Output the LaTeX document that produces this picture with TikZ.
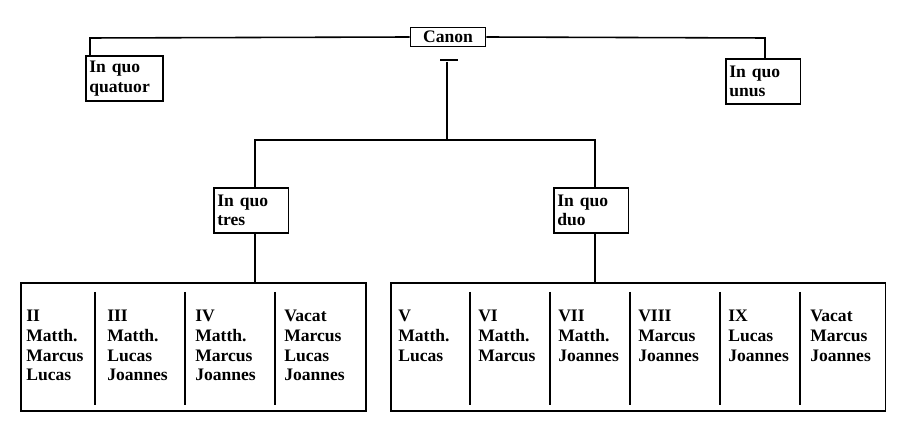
\documentclass[tikz,border=0pt]{standalone}
\usepackage{fontspec}
\setmainfont{Liberation Serif}
\begin{document}
\begin{tikzpicture}[x=0.02cm,y=-0.02cm,line width=0.9pt,
  lbl/.style={font=\bfseries\fontsize{10}{11.2}\selectfont,align=left,inner sep=2pt},
  bx/.style={lbl,draw,minimum height=0.9cm,text width=1.4cm},
  col/.style={lbl,anchor=north west}]
\useasboundingbox (0,0) rectangle (917,435);
\node[lbl,draw,minimum width=1.5cm] (canon) at (448,37) {Canon};
\node[bx,anchor=north west] (quat) at (85,55) {In quo\\quatuor};
\node[bx,anchor=north west,text width=1.35cm] (unus) at (725,58) {In quo\\unus};
\node[bx,anchor=north west,text width=1.35cm] (tres) at (213,187) {In quo\\tres};
\node[bx,anchor=north west,text width=1.35cm] (duo) at (553,187) {In quo\\duo};
\coordinate (tl) at (90,38); \coordinate (tr) at (765,38);
\draw (canon.west) -- (tl) -- (tl|-quat.north);
\draw (canon.east) -- (tr) -- (tr|-unus.north);
\draw (440,60) -- (458,60);
\coordinate (m) at (447,140);
\draw (447,62) -- (m);
\draw (m) -- (255,140) -- (tres.north -| 255,0);
\draw (m) -- (595,140) -- (duo.north -| 595,0);
\node[draw,anchor=north west,minimum width=6.9cm,minimum height=2.56cm] (L) at (20,282) {};
\node[draw,anchor=north west,minimum width=9.9cm,minimum height=2.56cm] (R) at (390,282) {};
\draw (tres.south -| 255,0) -- (L.north -| 255,0);
\draw (duo.south -| 595,0) -- (R.north -| 595,0);
\foreach \x in {95,185,275} \draw (\x,292) -- (\x,405);
\foreach \x in {470,550,630,720,800} \draw (\x,292) -- (\x,405);
\node[col] (c1) at (22,306) {II\\Matth.\\Marcus\\Lucas};
\node[col] (c2) at (103,306) {III\\Matth.\\Lucas\\Joannes};
\node[col] (c3) at (191,306) {IV\\Matth.\\Marcus\\Joannes};
\node[col] (c4) at (280,306) {Vacat\\Marcus\\Lucas\\Joannes};
\node[col] (c5) at (394,306) {V\\Matth.\\Lucas};
\node[col] (c6) at (474,306) {VI\\Matth.\\Marcus};
\node[col] (c7) at (554,306) {VII\\Matth.\\Joannes};
\node[col] (c8) at (634,306) {VIII\\Marcus\\Joannes};
\node[col] (c9) at (724,306) {IX\\Lucas\\Joannes};
\node[col] (c10) at (806,306) {Vacat\\Marcus\\Joannes};
\end{tikzpicture}
\end{document}
